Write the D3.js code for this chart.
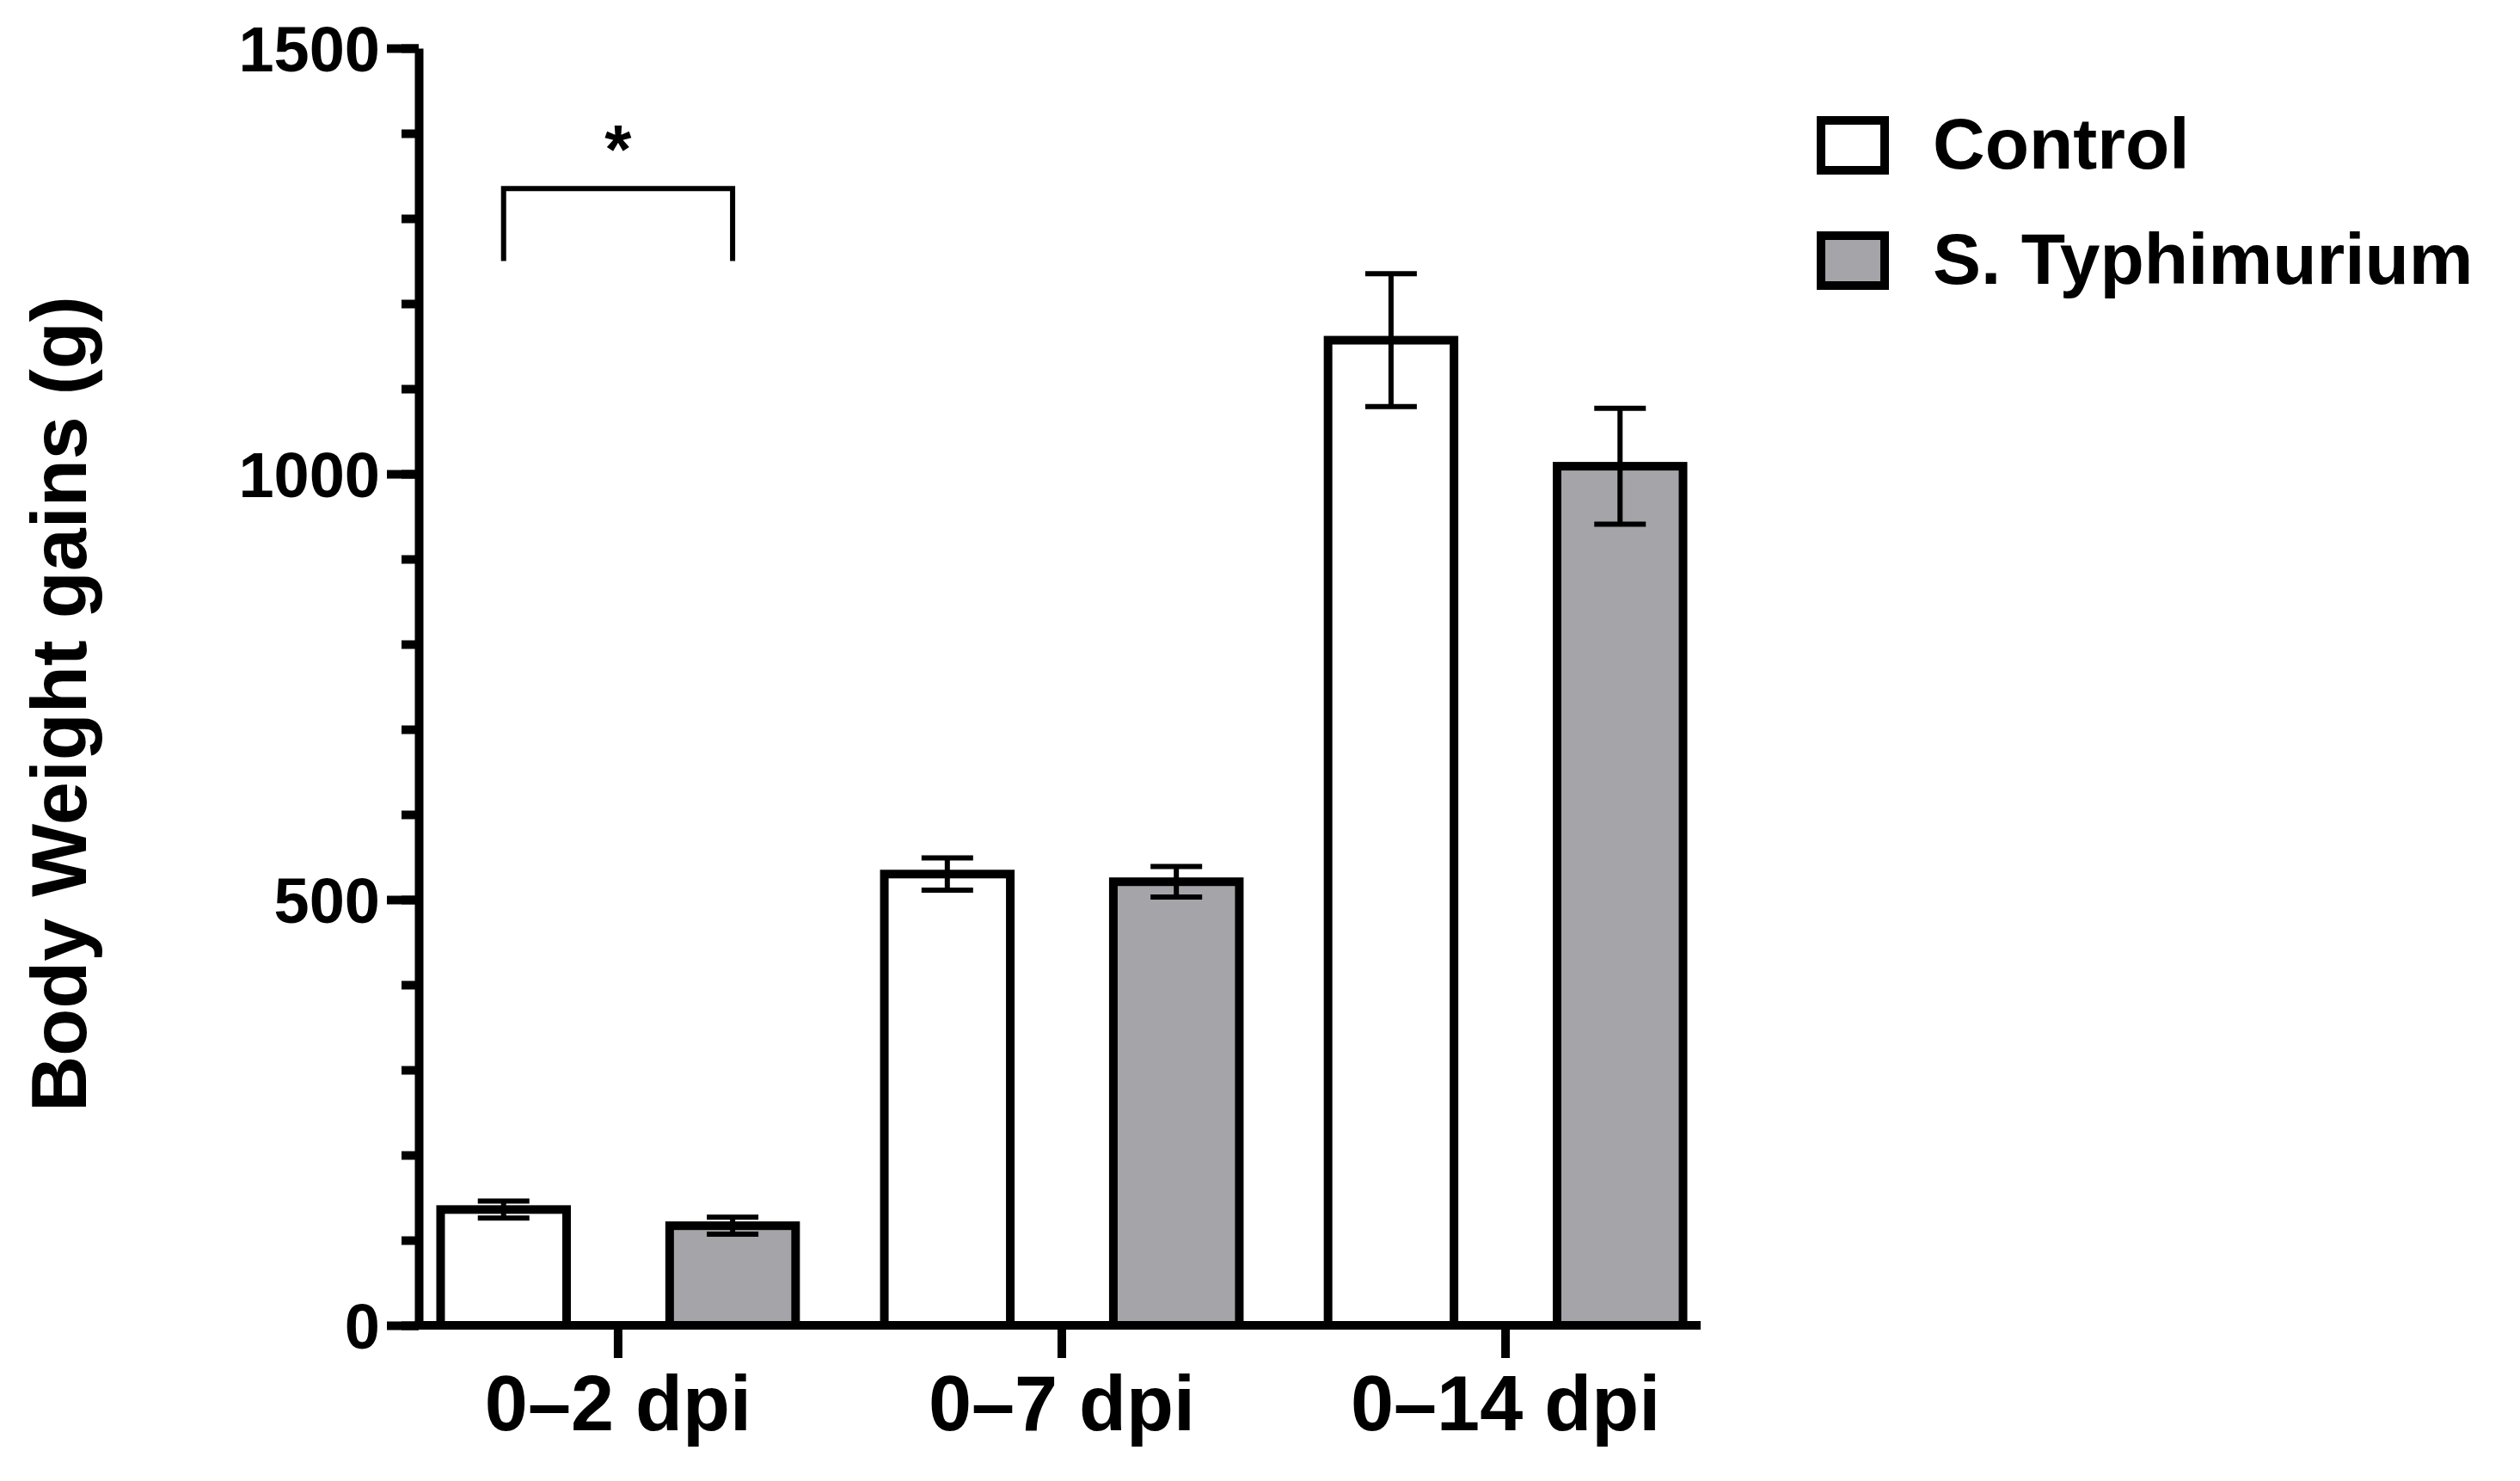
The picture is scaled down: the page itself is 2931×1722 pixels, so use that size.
<!DOCTYPE html>
<html lang="en">
<head>
<meta charset="UTF-8">
<script src="https://d3js.org/d3.v7.min.js"></script>
<style>
  body { margin: 0; background: #fff; }
  text { font-family: "Liberation Sans", Arial, sans-serif; font-weight: bold; }
</style>
</head>
<body>
<div id="chart_area"></div>
<script>
  // data
  var categories = ["0\u20132 dpi", "0\u20137 dpi", "0\u201314 dpi"];
  var groups = ["Control", "S. Typhimurium"];
  var controlMean = [136, 530, 1157];
  var controlSem = [10, 19, 78];
  var typhMean = [117, 521, 1009];
  var typhSem = [10, 18, 68];
  var yTicks = [0, 500, 1000, 1500];
  var yMinorTicks = d3.range(0, 1501, 100);

  var W = 2931, H = 1722;
  var pLeft = 487, pRight = 1978, pTop = 56, pBottom = 1541;
  var colors = ["#ffffff", "#a5a4a8"];

  var svg = d3.select("#chart_area").append("svg")
      .attr("width", W).attr("height", H);

  var y = d3.scaleLinear().domain([0, 1500]).range([pBottom, pTop]);
  var x0 = d3.scaleBand().domain(categories).range([pLeft + 10, pRight - 5]).paddingInner(0.2).paddingOuter(0.03);
  var x1 = d3.scaleBand().domain(groups).range([0, x0.bandwidth()]).paddingInner(0.45);

  var data = [];
  categories.forEach(function (c, i) {
    data.push({ cat: c, grp: groups[0], mean: controlMean[i], sem: controlSem[i] });
    data.push({ cat: c, grp: groups[1], mean: typhMean[i], sem: typhSem[i] });
  });

  var sw = 10;
  function cx(d) { return x0(d.cat) + x1(d.grp) + x1.bandwidth() / 2; }

  // bars
  svg.selectAll("rect.bar").data(data).enter().append("rect")
    .attr("class", "bar")
    .attr("x", function (d) { return x0(d.cat) + x1(d.grp); })
    .attr("y", function (d) { return y(d.mean); })
    .attr("width", x1.bandwidth())
    .attr("height", function (d) { return y(0) - y(d.mean); })
    .attr("fill", function (d) { return colors[groups.indexOf(d.grp)]; })
    .attr("stroke", "#000").attr("stroke-width", sw);

  // error bars
  var eb = svg.selectAll("g.err").data(data).enter().append("g")
    .attr("stroke", "#000").attr("stroke-width", 6);
  eb.append("line")
    .attr("x1", cx).attr("x2", cx)
    .attr("y1", function (d) { return y(d.mean - d.sem); })
    .attr("y2", function (d) { return y(d.mean + d.sem); });
  [1, -1].forEach(function (s) {
    eb.append("line")
      .attr("x1", function (d) { return cx(d) - 30; })
      .attr("x2", function (d) { return cx(d) + 30; })
      .attr("y1", function (d) { return y(d.mean + s * d.sem); })
      .attr("y2", function (d) { return y(d.mean + s * d.sem); });
  });

  // y axis
  var yMinor = svg.append("g").attr("transform", "translate(" + pLeft + ",0)")
    .call(d3.axisLeft(y).tickValues(yMinorTicks).tickSize(20).tickFormat(""));
  yMinor.select(".domain").remove();
  yMinor.selectAll("line").attr("stroke-width", sw);
  var yAxis = svg.append("g").attr("transform", "translate(" + pLeft + ",0)")
    .call(d3.axisLeft(y).tickValues(yTicks).tickFormat(d3.format("d"))
      .tickSize(37).tickPadding(8).tickSizeOuter(0));
  yAxis.select(".domain").attr("stroke-width", sw);
  yAxis.selectAll("line").attr("stroke-width", sw);
  yAxis.selectAll("text").attr("font-size", 74).attr("dy", "0.36em").attr("fill", "#000");

  // x axis
  var xAxis = svg.append("g").attr("transform", "translate(0," + pBottom + ")")
    .call(d3.axisBottom(x0).tickSize(38).tickPadding(20).tickSizeOuter(0));
  xAxis.select(".domain").attr("stroke-width", sw).attr("d", "M" + (pLeft - 5) + ",0H" + pRight);
  xAxis.selectAll("line").attr("stroke-width", sw);
  xAxis.selectAll("text").attr("font-size", 90).attr("fill", "#000");

  // y title
  svg.append("text")
    .attr("transform", "translate(100," + ((pTop + pBottom) / 2 + 20) + ") rotate(-90)")
    .attr("text-anchor", "middle").attr("font-size", 90)
    .text("Body Weight gains (g)");

  // significance bracket for 0-2 dpi
  var c0 = categories[0];
  var bx1 = x0(c0) + x1(groups[0]) + x1.bandwidth() / 2;
  var bx2 = x0(c0) + x1(groups[1]) + x1.bandwidth() / 2;
  var by = y(1335);
  svg.append("path")
    .attr("d", "M" + bx1 + "," + y(1250) + "V" + by + "H" + bx2 + "V" + y(1250))
    .attr("fill", "none").attr("stroke", "#000").attr("stroke-width", 6);
  svg.append("text").attr("x", (bx1 + bx2) / 2).attr("y", by - 18)
    .attr("text-anchor", "middle").attr("font-size", 80).text("*");

  // legend
  var lg = svg.selectAll("g.legend").data(groups).enter().append("g")
    .attr("transform", function (d, i) { return "translate(2118," + (140 + i * 134) + ")"; });
  lg.append("rect").attr("width", 74).attr("height", 58)
    .attr("fill", function (d, i) { return colors[i]; })
    .attr("stroke", "#000").attr("stroke-width", sw);
  lg.append("text").attr("x", 130).attr("y", 56).attr("font-size", 84).text(function (d) { return d; });
</script>
</body>
</html>
